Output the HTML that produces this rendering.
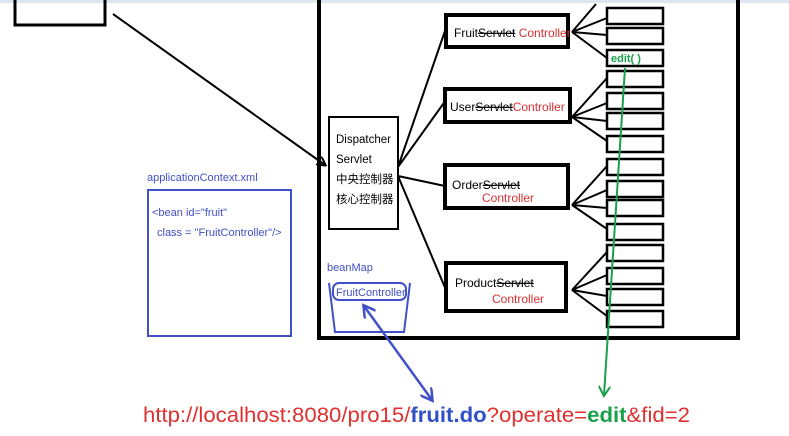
<!DOCTYPE html>
<html><head><meta charset="utf-8"><style>
body{margin:0;background:#fff;width:789px;height:436px;overflow:hidden}
svg{display:block}
text{font-family:"Liberation Sans","Noto Sans CJK SC",sans-serif}
</style></head><body>
<svg width="789" height="436" viewBox="0 0 789 436">
<defs>
<marker id="ab" markerWidth="10" markerHeight="10" refX="8" refY="5" orient="auto" markerUnits="userSpaceOnUse"><path d="M0,0 L9,5 L0,10" fill="none" stroke="#000" stroke-width="2"/></marker>
<marker id="ag" markerWidth="12" markerHeight="12" refX="9" refY="6" orient="auto" markerUnits="userSpaceOnUse"><path d="M0,0 L10,6 L0,12" fill="none" stroke="#1aa04a" stroke-width="2"/></marker>
<marker id="abl" markerWidth="14" markerHeight="14" refX="11" refY="7" orient="auto-start-reverse" markerUnits="userSpaceOnUse"><path d="M0,0 L12,7 L0,14" fill="none" stroke="#4050c8" stroke-width="2.5"/></marker>
</defs>
<rect x="0" y="0" width="789" height="3" fill="#dde6f0"/>
<rect x="15" y="-5" width="90" height="30" fill="none" stroke="#000" stroke-width="3"/>
<line x1="113" y1="14" x2="325" y2="165" stroke="#000" stroke-width="2" marker-end="url(#ab)"/>
<rect x="319" y="-5" width="419" height="343" fill="none" stroke="#000" stroke-width="4"/>
<rect x="329" y="117" width="69" height="112" fill="none" stroke="#000" stroke-width="2"/>
<g font-size="11.5" fill="#000"><text x="336" y="143">Dispatcher</text><text x="336" y="163">Servlet</text><text x="336" y="183">中央控制器</text><text x="336" y="203">核心控制器</text></g>
<g stroke="#000" stroke-width="2" fill="none">
<path d="M398,167 L446,28 M398,167 L446,100 M398,176 L445,186 M398,176 L446,290"/>
<rect x="446" y="15" width="122" height="32" stroke-width="4"/>
<rect x="445" y="89" width="125" height="33" stroke-width="4"/>
<rect x="445" y="165" width="123" height="43" stroke-width="4"/>
<rect x="446" y="263" width="120" height="48" stroke-width="4"/>
<g stroke-width="2.5">
<rect x="607" y="8" width="56" height="16"/><rect x="607" y="28" width="56" height="16"/><rect x="607" y="50" width="56" height="16"/>
<rect x="607" y="71" width="56" height="16"/><rect x="607" y="93" width="56" height="16"/><rect x="607" y="113" width="56" height="16"/><rect x="607" y="136" width="56" height="16"/>
<rect x="607" y="159" width="56" height="16"/><rect x="607" y="181" width="56" height="16"/><rect x="607" y="200" width="56" height="16"/><rect x="607" y="224" width="56" height="16"/>
<rect x="607" y="245" width="56" height="16"/><rect x="607" y="268" width="56" height="16"/><rect x="607" y="289" width="56" height="16"/><rect x="607" y="311" width="56" height="16"/>
</g>
<path d="M572,32 L596,4 M572,32 L607,18 M572,32 L607,35 M572,32 L607,58"/>
<path d="M572,117 L607,78 M572,117 L607,103 M572,117 L607,121 M572,117 L607,141"/>
<path d="M572,205 L607,166 M572,205 L607,190 M572,205 L607,208 M572,205 L607,229"/>
<path d="M572,290 L607,252 M572,290 L607,275 M572,290 L607,296 M572,290 L607,316"/>
</g>
<g font-size="12">
<text x="454" y="37" fill="#000">Fruit<tspan text-decoration="line-through">Servlet</tspan> <tspan fill="#d83030">Controller</tspan></text>
<text x="450" y="111" fill="#000">User<tspan text-decoration="line-through">Servlet</tspan><tspan fill="#d83030">Controller</tspan></text>
<text x="452" y="189" fill="#000">Order<tspan text-decoration="line-through">Servlet</tspan></text>
<text x="482" y="202" fill="#d83030">Controller</text>
<text x="455" y="287" fill="#000">Product<tspan text-decoration="line-through">Servlet</tspan></text>
<text x="492" y="303" fill="#d83030">Controller</text>
</g>
<text x="611" y="62" font-size="11" font-weight="bold" fill="#1aa04a">edit( )</text>
<line x1="625" y1="68" x2="604" y2="395" stroke="#1aa04a" stroke-width="2" marker-end="url(#ag)"/>
<text x="147" y="181" font-size="11" fill="#4050c8">applicationContext.xml</text>
<rect x="148" y="190" width="143" height="146" fill="none" stroke="#4050c8" stroke-width="2"/>
<text x="152" y="216" font-size="11" fill="#4050c8">&lt;bean id="fruit"</text>
<text x="157" y="236" font-size="11" fill="#4050c8">class = "FruitController"/&gt;</text>
<text x="327" y="271" font-size="11" fill="#4050c8">beanMap</text>
<path d="M329,283 L335,332 L404,332 L410,283" fill="none" stroke="#4050c8" stroke-width="2"/>
<rect x="333" y="283" width="73" height="17" rx="6" fill="none" stroke="#4050c8" stroke-width="2"/>
<text x="336" y="296" font-size="11" fill="#4050c8">FruitController</text>
<line x1="364" y1="306" x2="432" y2="400" stroke="#4050c8" stroke-width="2.5" marker-start="url(#abl)" marker-end="url(#abl)"/>
<text x="143" y="422" font-size="21.5" fill="#e03030" textLength="547" lengthAdjust="spacingAndGlyphs">http://localhost:8080/pro15/<tspan fill="#3050c8" font-weight="bold">fruit.do</tspan>?operate=<tspan fill="#1aa04a" font-weight="bold">edit</tspan>&amp;fid=2</text>
</svg>
</body></html>
